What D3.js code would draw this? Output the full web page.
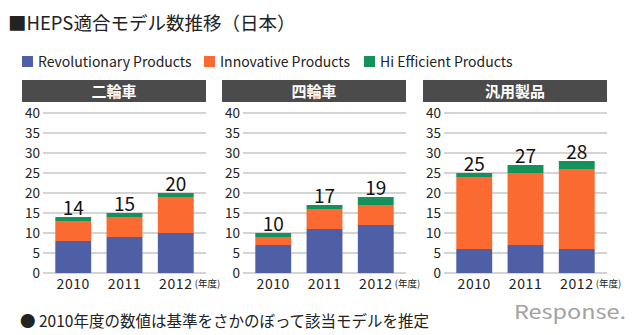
<!DOCTYPE html>
<html>
<head>
<meta charset="utf-8">
<script src="https://cdn.jsdelivr.net/npm/d3@7"></script>
<style>
  body { margin: 0; background: #fff; }
  text { font-family: "Noto Sans CJK JP", "Noto Sans", sans-serif; }
</style>
</head>
<body>
<div id="chart-container"></div>
<script>
// data
var years = ['2010', '2011', '2012'];
var panels = ['二輪車', '四輪車', '汎用製品'];
var seriesNames = ['Revolutionary Products', 'Innovative Products', 'Hi Efficient Products'];
var revolutionary = [[8, 9, 10], [7, 11, 12], [6, 7, 6]];
var innovative = [[5, 5, 9], [2, 5, 5], [18, 18, 20]];
var hiEfficient = [[1, 1, 1], [1, 1, 2], [1, 2, 2]];
var totals = [[14, 15, 20], [10, 17, 19], [25, 27, 28]];
var yTicks = [0, 5, 10, 15, 20, 25, 30, 35, 40];

var colors = ['#4f5fa6', '#fb6a31', '#15925b'];

var width = 640, height = 335;

var svg = d3.select("#chart-container")
  .append("svg")
  .attr("width", width)
  .attr("height", height);

// title
svg.append("text")
  .attr("x", 8)
  .attr("y", 30)
  .attr("font-size", 18.5)
  .attr("fill", "#222")
  .text("■HEPS適合モデル数推移（日本）");

// legend
var legendX = [22, 204, 364];
var legend = svg.selectAll("g.legend")
  .data(seriesNames)
  .enter()
  .append("g")
  .attr("class", "legend")
  .attr("transform", function(d, i) { return "translate(" + legendX[i] + ",56)"; });
legend.append("rect")
  .attr("width", 11)
  .attr("height", 11)
  .attr("fill", function(d, i) { return colors[i]; });
legend.append("text")
  .attr("x", 16)
  .attr("y", 10.5)
  .attr("font-size", 14)
  .attr("fill", "#222")
  .text(function(d) { return d; });

var panelX = [22, 222, 423];
var panelW = 184;
var yScale = d3.scaleLinear().domain([0, 40]).range([273, 113]);

panels.forEach(function(name, p) {
  var g = svg.append("g").attr("transform", "translate(" + panelX[p] + ",0)");

  // header bar
  g.append("rect")
    .attr("x", 0).attr("y", 80)
    .attr("width", panelW).attr("height", 22)
    .attr("fill", "#4b4b4b");
  g.append("text")
    .attr("x", panelW / 2).attr("y", 96.5)
    .attr("text-anchor", "middle")
    .attr("font-size", 15)
    .attr("font-weight", "bold")
    .attr("fill", "#fff")
    .text(name);

  var xScale = d3.scaleBand()
    .domain(years)
    .range([21, panelW])
    .paddingInner(0.3)
    .paddingOuter(0.24);

  // gridlines
  g.selectAll(".grid")
    .data(yTicks)
    .enter()
    .append("line")
    .attr("x1", 21).attr("x2", panelW)
    .attr("y1", function(d) { return yScale(d); })
    .attr("y2", function(d) { return yScale(d); })
    .attr("stroke", "#c6c6c6")
    .attr("stroke-width", 1.5);

  // y axis labels
  var yAxis = d3.axisLeft(yScale).tickValues(yTicks).tickSize(0).tickPadding(3);
  var ya = g.append("g").attr("transform", "translate(21,0)").call(yAxis);
  ya.select(".domain").remove();
  ya.selectAll("text")
    .attr("font-size", 13.5)
    .attr("fill", "#222")
    .style("font-family", '"Noto Sans CJK JP", sans-serif');

  // x axis labels
  var xAxis = d3.axisBottom(xScale).tickSize(0).tickPadding(6);
  var xa = g.append("g").attr("transform", "translate(0,273)").call(xAxis);
  xa.select(".domain").remove();
  xa.selectAll("text")
    .attr("font-size", 14)
    .attr("letter-spacing", 0.6)
    .attr("fill", "#222")
    .style("font-family", '"Noto Sans CJK JP", sans-serif');

  g.append("text")
    .attr("x", xScale('2012') + xScale.bandwidth() + 1)
    .attr("y", 287)
    .attr("font-size", 9.5)
    .attr("fill", "#222")
    .text("(年度)");

  // stacked bars
  var rows = years.map(function(y, i) {
    return { year: y, r: revolutionary[p][i], n: innovative[p][i], h: hiEfficient[p][i] };
  });
  var stacked = d3.stack().keys(['r', 'n', 'h'])(rows);

  g.selectAll("g.series")
    .data(stacked)
    .enter()
    .append("g")
    .attr("class", "series")
    .attr("fill", function(d, i) { return colors[i]; })
    .selectAll("rect")
    .data(function(d) { return d; })
    .enter()
    .append("rect")
    .attr("x", function(d) { return xScale(d.data.year); })
    .attr("y", function(d) { return yScale(d[1]); })
    .attr("width", xScale.bandwidth())
    .attr("height", function(d) { return yScale(d[0]) - yScale(d[1]); });

  // totals
  g.selectAll(".total")
    .data(years)
    .enter()
    .append("text")
    .attr("x", function(d) { return xScale(d) + xScale.bandwidth() / 2; })
    .attr("y", function(d, i) {
      return yScale(revolutionary[p][i] + innovative[p][i] + hiEfficient[p][i]) - 2;
    })
    .attr("text-anchor", "middle")
    .attr("font-size", 19)
    .attr("fill", "#111")
    .text(function(d, i) { return totals[p][i]; });
});

// footnote
svg.append("text")
  .attr("x", 20)
  .attr("y", 327)
  .attr("font-size", 15.5)
  .attr("fill", "#222")
  .text("● 2010年度の数値は基準をさかのぼって該当モデルを推定");

// watermark
svg.append("text")
  .attr("x", 514)
  .attr("y", 319)
  .attr("font-size", 19)
  .attr("fill", "#a2a2a2")
  .attr("font-family", "Lato, sans-serif")
  .attr("textLength", 112)
  .attr("lengthAdjust", "spacingAndGlyphs")
  .text("Response.");
</script>
</body>
</html>
